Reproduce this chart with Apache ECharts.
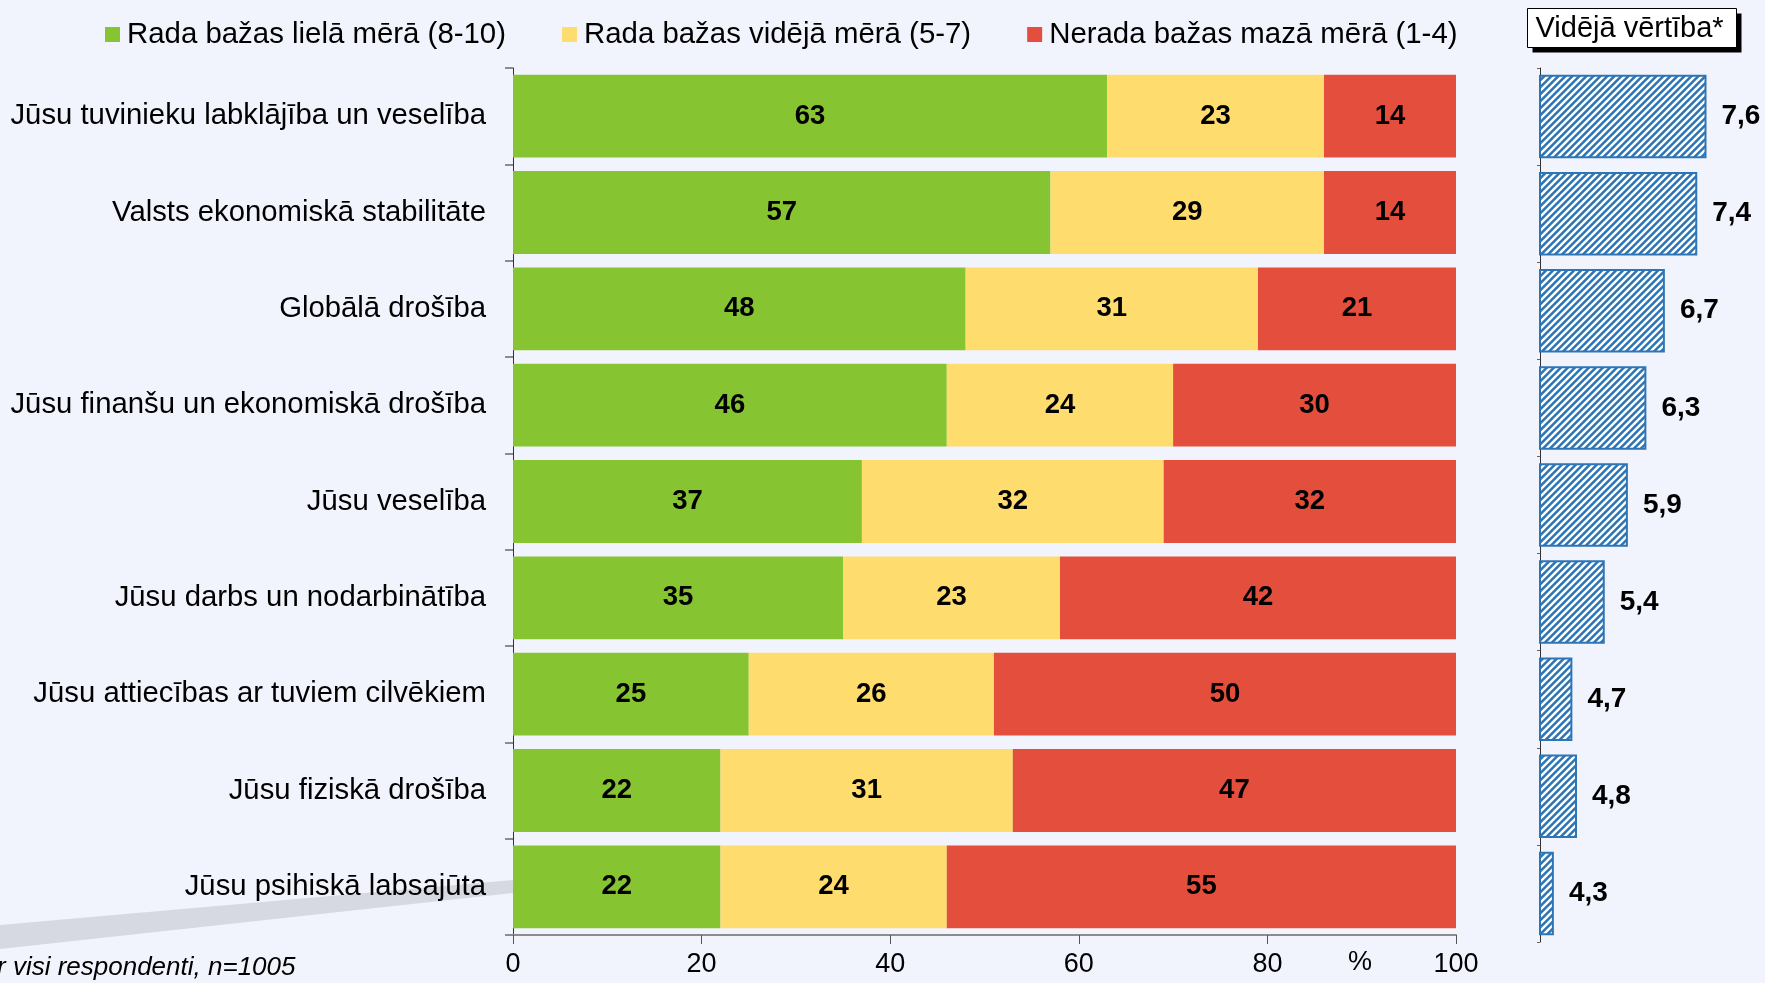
<!DOCTYPE html>
<html>
<head>
<meta charset="utf-8">
<script src="https://cdn.jsdelivr.net/npm/echarts@6/dist/echarts.min.js"></script>
<style>
  html, body { margin: 0; padding: 0; background: #f2f4fd; }
  #chart { width: 1765px; height: 983px; }
</style>
</head>
<body>
<div id="chart"></div>
<script>
// Survey items, top to bottom
const categories = [
  'Jūsu tuvinieku labklājība un veselība',
  'Valsts ekonomiskā stabilitāte',
  'Globālā drošība',
  'Jūsu finanšu un ekonomiskā drošība',
  'Jūsu veselība',
  'Jūsu darbs un nodarbinātība',
  'Jūsu attiecības ar tuviem cilvēkiem',
  'Jūsu fiziskā drošība',
  'Jūsu psihiskā labsajūta'
];
const seriesNames = [
  'Rada bažas lielā mērā (8-10)',
  'Rada bažas vidējā mērā (5-7)',
  'Nerada bažas mazā mērā (1-4)'
];
const highConcern = [63, 57, 48, 46, 37, 35, 25, 22, 22];
const mediumConcern = [23, 29, 31, 24, 32, 23, 26, 31, 24];
const lowConcern = [14, 14, 21, 30, 32, 42, 50, 47, 55];
const meanScore = [7.6, 7.4, 6.7, 6.3, 5.9, 5.4, 4.7, 4.8, 4.3];
const meanTitle = 'Vidējā vērtība*';
const baseNote = 'r visi respondenti, n=1005';
const percentUnit = '%';

const FONT = '"Liberation Sans", Arial, sans-serif';
const GREEN = '#86c531', YELLOW = '#ffdc6e', RED = '#e34f3c', BLUE = '#2e75b6';

// Diagonal-striped fill for the mean-score bars
function stripePattern() {
  const s = 7;
  const c = document.createElement('canvas');
  c.width = s; c.height = s;
  const g = c.getContext('2d');
  g.fillStyle = BLUE;
  g.fillRect(0, 0, s, s);
  g.strokeStyle = '#ffffff';
  g.lineWidth = 2.4;
  g.beginPath();
  g.moveTo(0, s); g.lineTo(s, 0);
  g.moveTo(-2, 2); g.lineTo(2, -2);
  g.moveTo(s - 2, s + 2); g.lineTo(s + 2, s - 2);
  g.stroke();
  return c;
}

const chart = echarts.init(document.getElementById('chart'));

const segLabel = {
  show: true,
  position: 'inside',
  color: '#000',
  fontFamily: FONT,
  fontWeight: 'bold',
  fontSize: 27.5
};

function stackSeries(name, data, color) {
  return {
    name: name,
    type: 'bar',
    stack: 'share',
    xAxisIndex: 0,
    yAxisIndex: 0,
    barWidth: '86%',
    clip: true,
    itemStyle: { color: color },
    label: segLabel,
    data: data
  };
}

chart.setOption({
  backgroundColor: '#f2f4fd',
  animation: false,
  legend: {
    data: seriesNames,
    left: 100,
    top: 15,
    icon: 'rect',
    itemWidth: 15,
    itemHeight: 15,
    itemGap: 56,
    textStyle: { fontFamily: FONT, fontSize: 29.4, color: '#000', padding: [0, 0, 0, 2] }
  },
  grid: [
    { left: 513, top: 68, width: 943, height: 867 },
    { left: 1540, top: 68, width: 185, height: 874 }
  ],
  xAxis: [
    {
      gridIndex: 0,
      type: 'value',
      min: 0,
      max: 100,
      interval: 20,
      axisLine: { show: true, lineStyle: { color: '#8c8c8c', width: 2 } },
      axisTick: { show: true, length: 9, lineStyle: { color: '#555', width: 1 } },
      axisLabel: { margin: 16, fontFamily: FONT, fontSize: 27, color: '#000' },
      splitLine: { show: false }
    },
    {
      gridIndex: 1,
      type: 'value',
      min: 4,
      max: 8,
      show: false,
      splitLine: { show: false }
    }
  ],
  yAxis: [
    {
      gridIndex: 0,
      type: 'category',
      inverse: true,
      data: categories,
      axisLine: { show: true, lineStyle: { color: '#333', width: 1 } },
      axisTick: { show: true, length: 8, lineStyle: { color: '#8c8c8c', width: 2 } },
      axisLabel: { margin: 27, fontFamily: FONT, fontSize: 29.3, color: '#000' }
    },
    {
      gridIndex: 1,
      type: 'category',
      inverse: true,
      data: categories,
      axisLine: { show: true, lineStyle: { color: '#333', width: 1 } },
      axisTick: { show: true, length: 3, lineStyle: { color: '#666' } },
      axisLabel: { show: false }
    }
  ],
  series: [
    stackSeries(seriesNames[0], highConcern, GREEN),
    stackSeries(seriesNames[1], mediumConcern, YELLOW),
    stackSeries(seriesNames[2], lowConcern, RED),
    {
      name: meanTitle,
      type: 'bar',
      xAxisIndex: 1,
      yAxisIndex: 1,
      barWidth: '86%',
      itemStyle: {
        color: { image: stripePattern(), repeat: 'repeat' },
        borderColor: BLUE,
        borderWidth: 2
      },
      label: {
        show: true,
        position: 'right',
        distance: 15,
        color: '#000',
        fontFamily: FONT,
        fontWeight: 'bold',
        fontSize: 28,
        formatter: p => String(p.value).replace('.', ',')
      },
      data: meanScore
    }
  ],
  graphic: [
    {
      type: 'polygon',
      z: -5,
      silent: true,
      shape: { points: [[0, 925], [513, 880], [513, 893], [0, 949]] },
      style: { fill: '#d6d9e1' }
    },
    {
      type: 'group',
      left: 1527,
      top: 8,
      children: [
        { type: 'rect', shape: { x: 5, y: 5, width: 209, height: 39 }, style: { fill: '#000' } },
        { type: 'rect', shape: { x: 0, y: 0, width: 209, height: 39 }, style: { fill: '#fff', stroke: '#000', lineWidth: 1 } },
        {
          type: 'text',
          x: 8,
          y: 20,
          style: { text: meanTitle, fontFamily: FONT, fontSize: 29, fill: '#000', verticalAlign: 'middle', align: 'left' }
        }
      ]
    },
    {
      type: 'text',
      x: 1360,
      y: 963,
      style: { text: percentUnit, fontFamily: FONT, fontSize: 27, fill: '#000', align: 'center', verticalAlign: 'middle' }
    },
    {
      type: 'text',
      x: -3,
      y: 968,
      style: { text: baseNote, fontFamily: FONT, fontStyle: 'italic', fontSize: 26, fill: '#000', align: 'left', verticalAlign: 'middle' }
    }
  ]
});
</script>
</body>
</html>
